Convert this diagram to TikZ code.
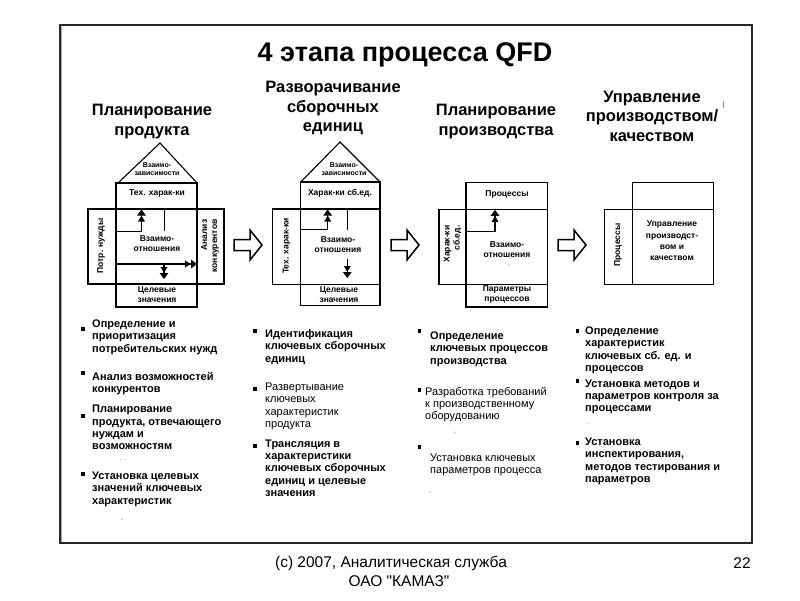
\documentclass[tikz,border=0pt]{standalone}
\usepackage{fontspec}
\setmainfont{Liberation Sans}
\newfontfamily\rawsans{Liberation Sans}
\usetikzlibrary{arrows.meta}
\begin{document}
\begin{tikzpicture}[x=1pt,y=-1pt,
  frame/.style={draw=black!85,line width=1.6pt},
  boxline/.style={draw=black,line width=1.1pt},
  thinline/.style={draw=black,line width=0.9pt},
  stack/.style={line width=1.3pt,-{Triangle[length=6pt,width=6.5pt]Triangle[length=6pt,width=8.5pt]}},
  barrow/.style={draw=black,line width=1.5pt,line join=miter,fill=white},
  title/.style={font=\bfseries\fontsize{27}{30}\selectfont,inner sep=0},
  head/.style={font=\bfseries\fontsize{16.5}{19.5}\selectfont,align=center,inner sep=0},
  lab/.style={font=\bfseries\fontsize{8.5}{10}\selectfont,align=center,inner sep=0},
  roof/.style={font=\bfseries\fontsize{7}{8.3}\selectfont,align=center,inner sep=0},
  btext/.style={font=\bfseries\fontsize{11}{12.4}\selectfont,align=left,anchor=north west,inner sep=0},
  rtext/.style={font=\fontsize{11}{12.4}\selectfont,align=left,anchor=north west,inner sep=0},
  bul/.style={fill=black,minimum size=3.5pt,inner sep=0},
  foot/.style={font=\rawsans\fontsize{15.5}{18}\selectfont,inner sep=0},
  stray/.style={font=\fontsize{7}{7}\selectfont,text=black!60,inner sep=0}
]
\useasboundingbox (0,0) rectangle (800,600);
\fill[white] (0,0) rectangle (800,600);

% frame
\draw[frame] (60,25) rectangle (752,543);
\draw[draw=black!35,line width=0.8pt] (61.8,26.8) -- (61.8,541.5);

% title and headers
\node[title] (title) at (405,55) {4 этапа процесса QFD};
\node[head] (h1) at (152,121.5) {Планирование\\продукта};
\node[head] (h2) at (333,108) {Разворачивание\\сборочных\\единиц};
\node[head] (h3) at (496,121.5) {Планирование\\производства};
\node[head] (h4) at (652,116) {Управление\\производством/\\качеством};
\draw[black!45,line width=0.7pt] (723,101) -- (723,108);

% ---------- diagram 1 ----------
\draw[boxline] (118,183) -- (160,143) -- (197,183);
\draw[boxline] (116,183) rectangle (197,307);
\draw[boxline] (88,209) rectangle (224,284);
\node[roof] (d1roof) at (157,169) {Взаимо-\\зависимости};
\node[lab] (d1top) at (157,193) {Тех. харак-ки};
\node[lab] (d1mid) at (157,244) {Взаимо-\\отношения};
\node[lab,rotate=90] (d1left) at (101,246) {Потр. нужды};
\node[lab,rotate=90,align=right] (d1right) at (210,246) {Анализ\\конкурентов};
\node[lab] (d1bot) at (157,295) {Целевые\\значения};
\coordinate (d1a) at (116,231.5);
\coordinate (d1b) at (141.5,231.5);
\coordinate (d1c) at (141.5,209.5);
\coordinate (d1d) at (164,209);
\coordinate (d1e) at (164,231);
\coordinate (d1f) at (116,264);
\coordinate (d1g) at (197,264);
\coordinate (d1h) at (164,264);
\coordinate (d1i) at (164,279);
\draw[thinline] (d1a) -- (d1b);
\draw[stack] (d1b) -- (d1c);
\draw[thinline] (d1d) -- (d1e);
\draw[stack] (d1f) -- (d1g);
\draw[stack] (d1h) -- (d1i);

% ---------- diagram 2 ----------
\draw[boxline] (300.7,182) -- (340,142) -- (380,182);
\draw[boxline] (300.7,182) rectangle (380,305.7);
\draw[boxline] (272.3,209) rectangle (380,284.3);
\node[roof] (d2roof) at (344,169) {Взаимо-\\зависимости};
\node[lab] (d2top) at (340,193) {Харак-ки сб.ед.};
\node[lab] (d2mid) at (338,245) {Взаимо-\\отношения};
\node[lab,rotate=90] (d2left) at (286.5,246) {Тех. харак-ки};
\node[lab] (d2bot) at (339,295) {Целевые\\значения};
\coordinate (d2a) at (300.7,229.3);
\coordinate (d2b) at (327.7,229.3);
\coordinate (d2c) at (327.7,209.5);
\coordinate (d2d) at (347.3,209);
\coordinate (d2e) at (347.3,230);
\coordinate (d2f) at (347.3,259);
\coordinate (d2g) at (347.3,278);
\draw[thinline] (d2a) -- (d2b);
\draw[stack] (d2b) -- (d2c);
\draw[thinline] (d2d) -- (d2e);
\draw[stack] (d2f) -- (d2g);

% ---------- diagram 3 ----------
\draw[boxline] (466,182.7) rectangle (547.7,307);
\draw[boxline] (466,209.3) -- (547.7,209.3);
\draw[boxline] (439,209.3) rectangle (547.7,284.3);
\node[lab] (d3top) at (507,194) {Процессы};
\node[lab] (d3mid) at (507,250) {Взаимо-\\отношения};
\node[stray] (d3dash) at (509,265.5) {-};
\node[lab,rotate=90,align=right] (d3left) at (452.5,244) {Харак-ки\\сб.ед.};
\node[lab] (d3bot) at (507,294) {Параметры\\процессов};
\coordinate (d3a) at (466,231.7);
\coordinate (d3b) at (495,231.7);
\coordinate (d3c) at (495,209.8);
\draw[thinline] (d3a) -- (d3b);
\draw[stack] (d3b) -- (d3c);

% ---------- diagram 4 ----------
\draw[boxline] (632.7,182.7) rectangle (713.3,209.3);
\draw[boxline] (604.3,209.3) rectangle (713.3,284.3);
\draw[boxline] (632.7,209.3) -- (632.7,284.3);
\node[lab,rotate=90] (d4left) at (618,245) {Процессы};
\node[lab,font=\bfseries\fontsize{8.5}{11.4}\selectfont] (d4mid) at (672,241) {Управление\\производст-\\вом и\\качеством};

% ---------- block arrows ----------
\newcommand\qfdarrow[2]{\draw[barrow] (#1,#2-5.5) -- ++(16,0) -- ++(0,-9.5) -- ++(12,15) -- ++(-12,15) -- ++(0,-9.5) -- ++(-16,0) -- cycle;}
\qfdarrow{234}{245}
\qfdarrow{391}{245}
\qfdarrow{558}{245}

% ---------- column 1 ----------
\node[bul] (b11) at (83,329) {};
\node[bul] (b12) at (83,373) {};
\node[bul] (b13) at (83,416) {};
\node[bul] (b14) at (83,474) {};
\node[btext] (t11) at (92,319.5) {Определение и\\приоритизация\\потребительских нужд};
\node[btext] (t12) at (92,371.7) {Анализ возможностей\\конкурентов};
\node[btext] (t13) at (92,405) {Планирование\\продукта, отвечающего\\нуждам и\\возможностям};
\node[btext] (t14) at (92,471.7) {Установка целевых\\значений ключевых\\характеристик};
\node[stray] (s11) at (123,460) {. .};
\node[stray] (s12) at (122,520) {-};

% ---------- column 2 ----------
\node[bul] (b21) at (255,331) {};
\node[bul] (b22) at (255,389) {};
\node[bul] (b23) at (255,446) {};
\node[btext] (t21) at (265,329.3) {Идентификация\\ключевых сборочных\\единиц};
\node[rtext] (t22) at (265,382.7) {Развертывание\\ключевых\\характеристик\\продукта};
\node[btext] (t23) at (265,439.3) {Трансляция в\\характеристики\\ключевых сборочных\\единиц и целевые\\значения};

% ---------- column 3 ----------
\node[bul] (b31) at (419.5,331) {};
\node[bul] (b32) at (419.5,390) {};
\node[bul] (b33) at (419.5,447) {};
\node[btext] (t31) at (430,331.7) {Определение\\ключевых процессов\\производства};
\node[rtext] (t32) at (425,386.7) {Разработка требований\\к производственному\\оборудованию};
\node[rtext] (t33) at (430,453.3) {Установка ключевых\\параметров процесса};
\node[stray] (s31) at (455,433) {-};
\node[stray] (s32) at (430,493) {-};

% ---------- column 4 ----------
\node[bul] (b41) at (577.5,331) {};
\node[bul] (b42) at (577.5,381) {};
\node[bul] (b43) at (577.5,443) {};
\node[btext] (t41) at (585,326.7) {Определение\\характеристик\\ключевых сб. ед. и\\процессов};
\node[btext] (t42) at (585,379.3) {Установка методов и\\параметров контроля за\\процессами};
\node[btext] (t43) at (585,437.7) {Установка\\инспектирования,\\методов тестирования и\\параметров};
\node[stray] (s41) at (588,424) {.};

% ---------- footer ----------
\node[foot] (f1) at (391,563) {(c) 2007, Аналитическая служба};
\node[foot] (f2) at (399,581) {ОАО "КАМАЗ"};
\node[foot] (f3) at (742,563) {22};
\end{tikzpicture}
\end{document}
